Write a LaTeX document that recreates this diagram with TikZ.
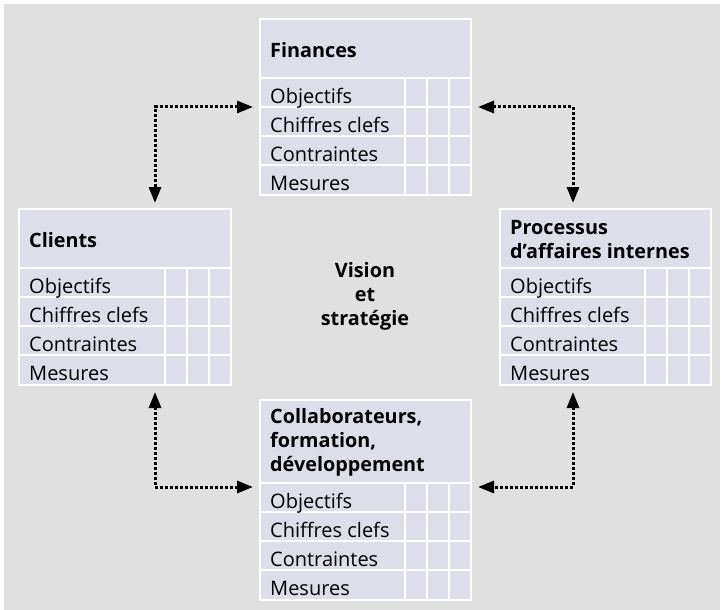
\documentclass[tikz,border=0pt]{standalone}
\usepackage{fontspec}
\setmainfont{Open Sans}
\usetikzlibrary{calc,arrows.meta}
\definecolor{bggray}{RGB}{224,224,224}
\definecolor{cardfill}{RGB}{222,222,234}
\tikzset{
  card/.style={rectangle, fill=cardfill, draw=white, line width=2pt, inner sep=0pt},
  gridline/.style={draw=white, line width=2pt},
  rowtxt/.style={inner sep=0pt, font=\fontsize{20}{25}\selectfont},
  titletxt/.style={inner sep=0pt, align=left, font=\bfseries\fontsize{19.8}{24}\selectfont},
  arr/.style={line width=3pt, dash pattern=on 3pt off 2pt,
    {Triangle[length=16pt,width=12pt]}-{Triangle[length=16pt,width=12pt]}}
}
% #1 name, #2 position, #3 width, #4 header height, #5 total height, #6 title last-line baseline, #7 title
\newcommand\mkcard[7]{%
  \node[card, minimum width=#3pt, minimum height=#5pt, anchor=north west] (#1) at (#2) {};
  \draw[gridline] ($(#1.north west)+(0,#4)$) -- ($(#1.north east)+(0,#4)$);
  \foreach \k in {29,58,87}{
    \draw[gridline] ($(#1.north west)+(0,#4+\k)$) -- ($(#1.north east)+(0,#4+\k)$);
  }
  \foreach \c in {67,45,23}{
    \draw[gridline] ($(#1.north east)+(-\c,#4)$) -- ($(#1.south east)+(-\c,0)$);
  }
  \foreach \k/\lbl in {0/Objectifs,29/Chiffres clefs,58/Contraintes,87/Mesures}{
    \node[rowtxt, anchor=base west] (#1-r\k) at ($(#1.north west)+(11,#4+25+\k)$) {\lbl};
  }
  \node[titletxt, anchor=base west] (#1-t) at ($(#1.north west)+(11,#6)$) {#7};
}
\begin{document}
\begin{tikzpicture}[x=1pt, y=-1pt]
\useasboundingbox (0,0) rectangle (721,610);
\fill[white] (0,0) rectangle (721,610);
\fill[bggray] (4,4) rectangle (720,610);

\mkcard{fin}{259,18}{211}{60}{176}{39.5}{Finances}
\mkcard{cli}{18,208}{212}{60}{176}{39.5}{Clients}
\mkcard{pro}{499,208}{211}{60}{176}{50}{Processus\\d’affaires internes}
\mkcard{col}{259,399}{211}{84}{200}{72}{Collaborateurs,\\formation,\\développement}

\node[titletxt, align=center, anchor=base] (vis) at (365,325) {Vision\\et\\stratégie};

\coordinate (tl1) at ($(fin.north west)+(-6,89)$);
\coordinate (tl2) at ($(cli.north west)+(137,-5)$);
\coordinate (tr1) at ($(fin.north east)+(6,89)$);
\coordinate (tr2) at ($(pro.north west)+(74,-5)$);
\coordinate (bl1) at ($(cli.south west)+(137,6)$);
\coordinate (bl2) at ($(col.north west)+(-6,88)$);
\coordinate (br1) at ($(pro.south west)+(74,6)$);
\coordinate (br2) at ($(col.north east)+(6,88)$);

\draw[arr] (tl1) -| (tl2);
\draw[arr] (tr1) -| (tr2);
\draw[arr] (bl1) |- (bl2);
\draw[arr] (br1) |- (br2);
\end{tikzpicture}
\end{document}
